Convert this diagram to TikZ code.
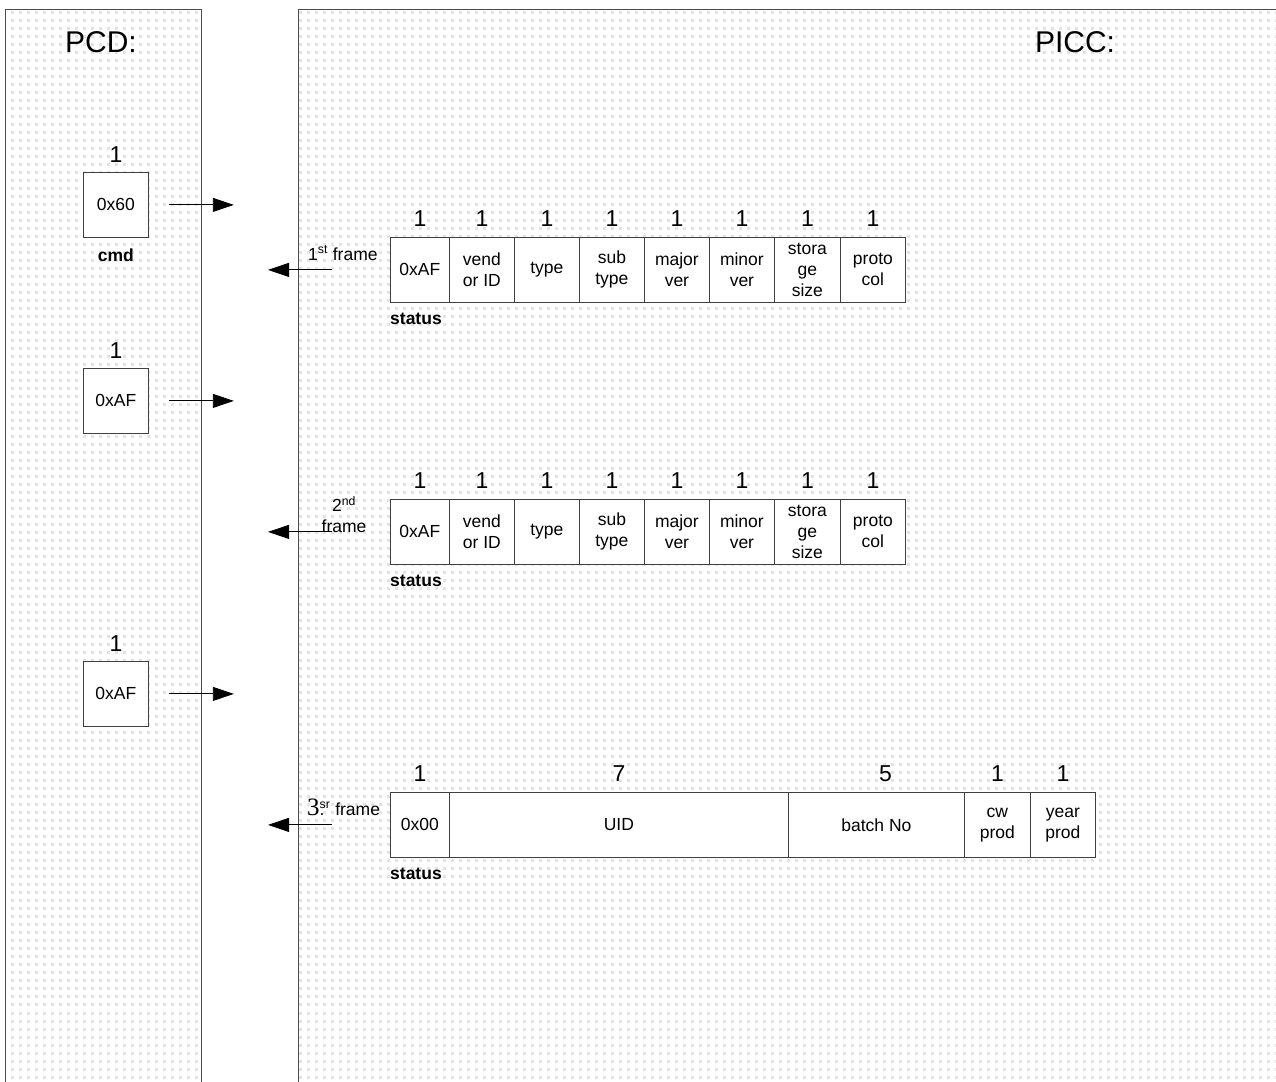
\documentclass[tikz,border=0pt]{standalone}
\usepackage{fontspec}
\setmainfont{Liberation Sans}
\newfontfamily\timesfont{Liberation Serif}
\usepackage{tikz}
\usetikzlibrary{patterns,arrows.meta}

\pgfdeclarepatternformonly{paneldots}{\pgfpoint{-1pt}{-1pt}}{\pgfpoint{9pt}{9pt}}{\pgfpoint{8pt}{8pt}}{%
  \pgfpathrectangle{\pgfpoint{2.5pt}{2.5pt}}{\pgfpoint{3pt}{3pt}}\pgfusepath{fill}}

\tikzset{
  panel/.style={draw=black!70, line width=0.8pt, pattern=paneldots, pattern color=black!11},
  cell/.style={draw=black!75, line width=0.8pt, fill=white, minimum height=65pt, inner sep=0pt,
    align=center, font=\fontsize{17.5}{21}\selectfont},
  bytes/.style={inner sep=0pt, font=\fontsize{23}{25}\selectfont},
  title/.style={inner sep=0pt, font=\fontsize{30}{32}\selectfont},
  tag/.style={inner sep=0pt, font=\bfseries\fontsize{17.5}{20}\selectfont},
  lbl/.style={inner sep=0pt, font=\fontsize{17.5}{21}\selectfont},
  msg/.style={-{Triangle[length=21pt,width=14pt]}, line width=0.9pt},
}

\begin{document}
\begin{tikzpicture}[x=1pt,y=-1pt]
  \useasboundingbox (0,0) rectangle (1276,1081);
  \clip (0,0) rectangle (1276,1081);

  % the two sides
  \draw[panel] (5,9) rectangle (201,1095);
  \draw[panel] (298,9) rectangle (1295,1095);
  \node[title] (pcd) at (101,42) {PCD:};
  \node[title] (picc) at (1075,42) {PICC:};

  % commands sent by the PCD
  \foreach \cy/\ct [count=\k] in {172/0x60, 368/0xAF, 661/0xAF} {
    \node[cell, minimum width=65pt, anchor=north west] (c\k) at (83,\cy) {\ct};
    \node[bytes] (cn\k) at ([yshift=17pt]c\k.north) {1};
    \coordinate (o\k-s) at ([xshift=20pt]c\k.east);
    \coordinate (o\k-e) at ([xshift=85pt]c\k.east);
    \draw[msg] (o\k-s) -- (o\k-e);
  }
  \node[tag] (cmd) at ([yshift=-17pt]c1.south) {cmd};

  % 1st and 2nd frame of the answer
  \foreach \fy [count=\j] in {237,499} {
    \foreach \x/\w/\t [count=\i] in {390/59/0xAF, 449/65/{vend\\or ID}, 514/65/type, 579/65/{sub\\type},
        644/65/{major\\ver}, 709/65/{minor\\ver}, 774/66/{stora\\ge\\size}, 840/65/{proto\\col}} {
      \node[cell, minimum width=\w pt, anchor=north west] (f\j-\i) at (\x,\fy) {\t};
      \node[bytes] (b\j-\i) at ([yshift=18pt]f\j-\i.north) {1};
    }
    \node[tag, anchor=north west] (s\j) at ([yshift=-10pt]f\j-1.south west) {status};
    \coordinate (r\j-s) at ([xshift=-58pt]f\j-1.west);
    \coordinate (r\j-e) at ([xshift=-122pt]f\j-1.west);
    \draw[msg] (r\j-s) -- (r\j-e);
  }
  \node[lbl, anchor=base west] (l1) at (308,260) {1\textsuperscript{st} frame};
  \node[lbl, align=center, anchor=south] (l2) at (344,533) {2\textsuperscript{nd}\\frame};

  % 3rd frame
  \foreach \x/\w/\t/\n/\dx [count=\i] in {390/59/0x00/1/0, 449/339/UID/7/0, 788/176/{batch No}/5/9,
      964/66/{cw\\prod}/1/0, 1030/65/{year\\prod}/1/0} {
    \node[cell, minimum width=\w pt, anchor=north west] (f3-\i) at (\x,792) {\t};
    \node[bytes] (b3-\i) at ([xshift=\dx pt, yshift=18pt]f3-\i.north) {\n};
  }
  \node[tag, anchor=north west] (s3) at ([yshift=-10pt]f3-1.south west) {status};
  \coordinate (r3-s) at ([xshift=-58pt]f3-1.west);
  \coordinate (r3-e) at ([xshift=-122pt]f3-1.west);
  \draw[msg] (r3-s) -- (r3-e);
  \node[lbl, anchor=base west] (l3) at (307,815)
    {{\timesfont\fontsize{25}{25}\selectfont 3}\rlap{.}\textsuperscript{sr} frame};
\end{tikzpicture}
\end{document}
